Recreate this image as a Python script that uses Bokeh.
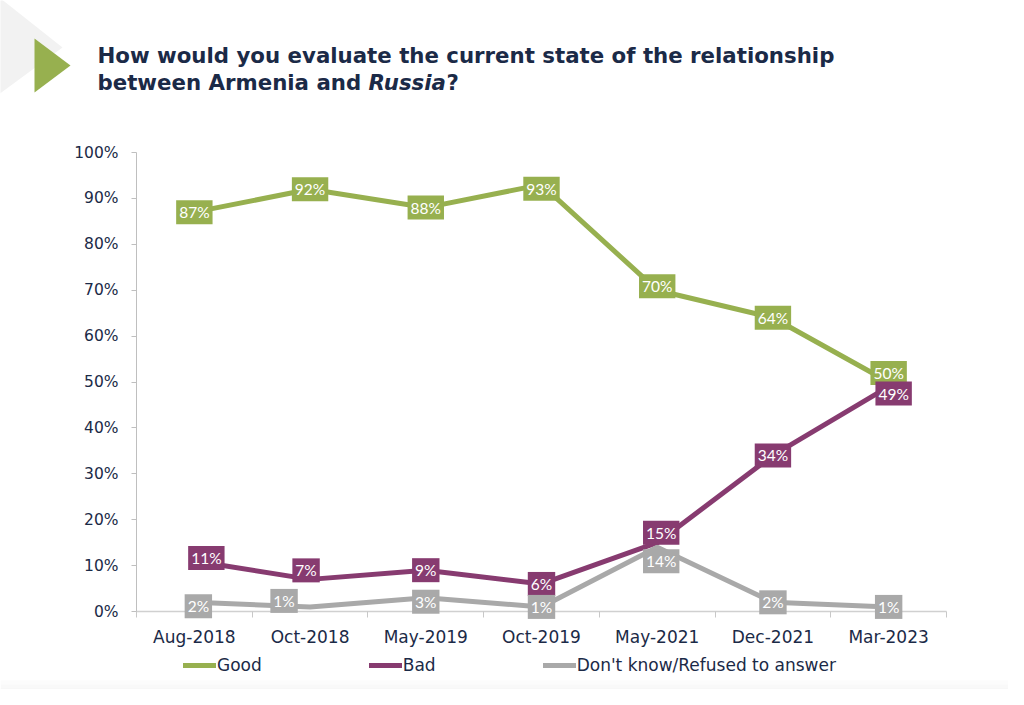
from bokeh.plotting import figure
from bokeh.models import (Range1d, FixedTicker, PrintfTickFormatter, Label, Legend, LegendItem)
from bokeh.embed import file_html
from bokeh.resources import INLINE
from bokeh.core.properties import value

# ---------------- data ----------------
categories = ["Aug-2018", "Oct-2018", "May-2019", "Oct-2019", "May-2021", "Dec-2021", "Mar-2023"]
good = [87, 92, 88, 93, 70, 64, 50]
bad = [11, 7, 9, 6, 15, 34, 49]
dont_know = [2, 1, 3, 1, 14, 2, 1]
series_names = ["Good", "Bad", "Don't know/Refused to answer"]
series_colors = ["#97b04f", "#873b70", "#a9a9a9"]
y_ticks = [0, 10, 20, 30, 40, 50, 60, 70, 80, 90, 100]
title_line1 = "How would you evaluate the current state of the relationship"
title_line2 = ["between Armenia and ", "Russia", "?"]

# label nudges (screen px; dx right, dy down) to avoid overlaps, as in the original
label_dx = [[0, 0, 0, 0, 0, 0, 0], [12, -4, 0, 0, 4, 0, 5], [4, -26, 0, 0, 4, 0, 0]]
label_dy = [[0, 0, 0, 4, -4, 0, -9], [-3, -9, 0, 0, -10, 0, 7], [4, -6, 4, 0, 14, 0, 0]]

NAVY = "#1b2a47"
W, H = 1008, 689
X0, Y0 = 0, 0  # canvas origin in picture pixels

# Plot area: x 136..946 for the 7 categories, y 611 (0%) .. 152 (100%).
# The frame covers the whole canvas; axes sit at fixed data locations.
ux = (946 - 136) / len(categories)
uy = (611 - 152) / 100.0
x_range = Range1d((X0 - 136) / ux, (X0 + W - 136) / ux)
y_range = Range1d((611 - (Y0 + H)) / uy, (611 - Y0) / uy)

p = figure(width=W, height=H, output_backend="svg", toolbar_location=None,
           x_range=x_range, y_range=y_range, min_border=0,
           outline_line_color=None, background_fill_color="white")
p.grid.visible = False
p.extra_x_ranges = {"px": Range1d(X0, X0 + W)}
p.extra_y_ranges = {"px": Range1d(Y0 + H, Y0)}

xs = [i + 0.5 for i in range(len(categories))]

# ---------------- decorations (picture-pixel coordinates) ----------------
p.patch([-10, 62, -10], [-10, 47, 100], fill_color="#f2f2f2", line_color=None,
        x_range_name="px", y_range_name="px", level="underlay")
fade_cols = ["#fcfcfc", "#f9f9f9", "#f6f6f6", "#f4f4f4", "#f2f2f2"]
p.quad(left=[0] * 5, right=[1030] * 5, top=[680 + k * 4 for k in range(5)],
       bottom=[684.5 + k * 4 for k in range(5)], fill_color=fade_cols, line_color=None,
       x_range_name="px", y_range_name="px", level="underlay")
p.patch([34, 34, 70], [38, 92, 65], fill_color="#97b04f", line_color=None,
        x_range_name="px", y_range_name="px")

def title_text(x, y, text, style):
    p.text(x=[x], y=[y], text=[text], text_font=value("DejaVu Sans"), text_font_style=style,
           text_font_size="21.3px", text_color=NAVY, text_baseline="alphabetic",
           text_align="left", x_range_name="px", y_range_name="px")

title_text(97, 55, title_line1, "bold")
title_text(97, 82, title_line2[0], "bold")
title_text(368, 82, title_line2[1], "bold italic")
title_text(446, 82, title_line2[2], "bold")

# ---------------- axes ----------------
xa = p.xaxis[0]
xa.fixed_location = 0
xa.bounds = (0, len(categories))
xa.ticker = FixedTicker(ticks=xs, minor_ticks=list(range(len(categories) + 1)))
xa.major_label_overrides = {x: c for x, c in zip(xs, categories)}
xa.major_tick_in = 0
xa.major_tick_out = 0
xa.minor_tick_in = 0
xa.minor_tick_out = 6
xa.minor_tick_line_color = "#c8c8c8"
xa.axis_line_color = "#d0d0d0"
xa.axis_line_width = 1.5
xa.major_label_text_font = "DejaVu Sans"
xa.major_label_text_font_size = "17px"
xa.major_label_text_color = NAVY
xa.major_label_standoff = 9

ya = p.yaxis[0]
ya.fixed_location = 0
ya.bounds = (0, 100)
ya.ticker = FixedTicker(ticks=y_ticks, minor_ticks=[])
ya.formatter = PrintfTickFormatter(format="%d%%")
ya.major_tick_in = 0
ya.major_tick_out = 5
ya.major_tick_line_color = "#bfbfbf"
ya.axis_line_color = "#bfbfbf"
ya.major_label_text_font = "DejaVu Sans"
ya.major_label_text_font_size = "15.5px"
ya.major_label_text_color = NAVY
ya.major_label_standoff = 13

# ---------------- lines and value labels ----------------
series = [good, bad, dont_know]
renderers = []
for vals, col in zip(series, series_colors):
    r = p.line(xs, vals, line_color=col, line_width=5, line_join="round", line_cap="round")
    renderers.append(r)

for vals, col, dxs, dys in zip(series, series_colors, label_dx, label_dy):
    for x, v, dx, dy in zip(xs, vals, dxs, dys):
        p.add_layout(Label(x=x, y=v, x_offset=dx, y_offset=-dy, text=f"{v}%",
                           text_align="center", text_baseline="middle",
                           text_color="white", text_font="Lato", text_font_size="15.5px",
                           background_fill_color=col, background_fill_alpha=1.0,
                           border_line_color=None, padding=3))

# ---------------- legend ----------------
legend = Legend(items=[LegendItem(label=n, renderers=[r]) for n, r in zip(series_names, renderers)],
                orientation="horizontal", location=(183 - X0, (Y0 + H) - 675), spacing=107,
                glyph_width=33, glyph_height=20, label_standoff=1, label_height=20,
                padding=0, margin=0, border_line_color=None, background_fill_alpha=0,
                label_text_font="DejaVu Sans", label_text_font_size="17px",
                label_text_color=NAVY, label_text_baseline="middle")
p.add_layout(legend)

open("out.html", "w").write(file_html(p, INLINE))
